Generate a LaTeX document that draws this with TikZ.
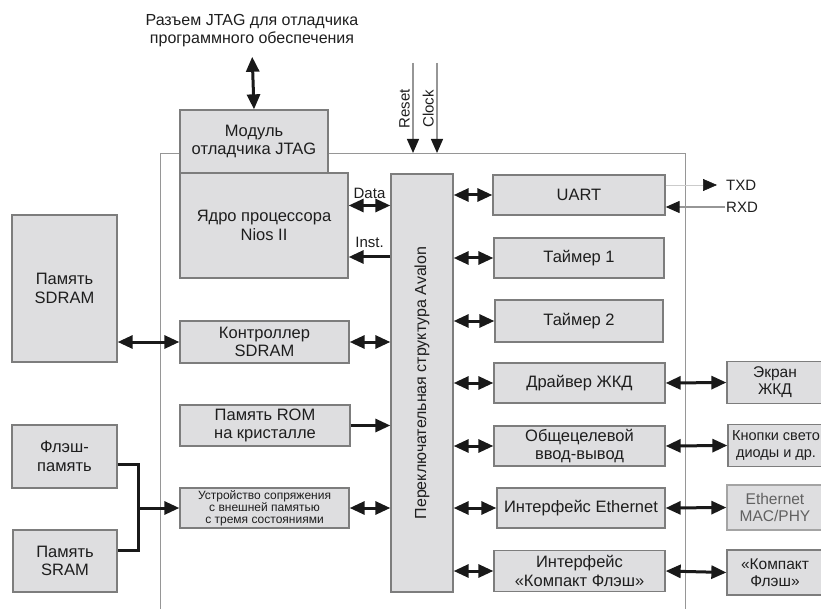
\documentclass[tikz,border=0pt]{standalone}
\usepackage{fontspec}
\setmainfont{Liberation Sans}
\definecolor{boxfill}{RGB}{222,222,224}
\definecolor{boxline}{RGB}{125,125,125}
\definecolor{framegray}{RGB}{150,150,150}
\definecolor{txtgray}{RGB}{30,30,30}
\definecolor{arrblack}{RGB}{25,25,25}
\usetikzlibrary{arrows.meta,positioning}

\begin{document}
\begin{tikzpicture}[x=1pt, y=-1pt,
  blk/.style={rectangle, draw=boxline, fill=boxfill, line width=1.3pt,
              inner sep=0pt, align=center, text=txtgray,
              font=\fontsize{16.5}{18.5}\selectfont},
  ext/.style={blk, minimum width=96pt, minimum height=42pt,
              font=\fontsize{15.5}{17}\selectfont},
  arr/.style={-{Triangle[length=15pt,width=13pt]}, line width=3pt, draw=arrblack},
  darr/.style={{Triangle[length=15pt,width=13pt]}-{Triangle[length=15pt,width=13pt]},
               line width=3pt, draw=arrblack},
  sig/.style={-{Triangle[length=14pt,width=12pt,color=arrblack]}, line width=1.3pt, draw=framegray},
  bus/.style={line width=3pt, draw=arrblack},
  lbl/.style={font=\fontsize{15}{17}\selectfont, text=txtgray, inner sep=1pt}
]
\useasboundingbox (0,0) rectangle (821,609);

% Chip outline (open at the bottom)
\node[draw=framegray, line width=1.3pt, minimum width=525pt, minimum height=500pt,
      inner sep=0pt, anchor=north west] (chip) at (160,153) {};

% JTAG
\node[align=center, text=txtgray, font=\fontsize{16}{18}\selectfont] (jtagcon) at (252,31)
  {Разъем JTAG для отладчика\\программного обеспечения};
\node[blk, minimum width=148pt, minimum height=63pt] (jtag) at (254,141.5)
  {Модуль\\отладчика JTAG};
\node[blk, minimum width=168pt, minimum height=105pt] (nios) at (264,225.5)
  {Ядро процессора\\Nios II};

% Avalon switch fabric
\node[blk, minimum width=62pt, minimum height=418pt, font=\fontsize{16}{18}\selectfont]
  (avalon) at (422,383) {\rotatebox{90}{Переключательная структура Avalon}};

% Reset / Clock
\coordinate (rst) at (413,63);
\coordinate (clk) at (437,63);
\node[lbl, rotate=90, anchor=south] (rstlbl) at (411,109) {Reset};
\node[lbl, rotate=90, anchor=south] (clklbl) at (435,109) {Clock};

% Left column inside the chip
\node[blk, minimum width=169pt, minimum height=42pt] (ctrl)  at (264.5,342)   {Контроллер\\SDRAM};
\node[blk, minimum width=170pt, minimum height=41pt] (rom)   at (265,425.5)   {Память ROM\\на кристалле};
\node[blk, minimum width=169pt, minimum height=40pt, font=\fontsize{12}{12}\selectfont]
  (iface) at (264.5,508) {Устройство сопряжения\\с внешней памятью\\с тремя состояниями};

% Peripherals
\node[blk, minimum width=172pt, minimum height=40pt] (uart)   at (579,195) {UART};
\node[blk, minimum width=170pt, minimum height=40pt] (tmrone) at (579,258) {Таймер 1};
\node[blk, minimum width=168pt, minimum height=42pt] (tmrtwo) at (579,321) {Таймер 2};
\node[blk, minimum width=171pt, minimum height=40pt] (lcddrv) at (579.5,383) {Драйвер ЖКД};
\node[blk, minimum width=171pt, minimum height=40pt] (gpio)   at (579.5,446) {Общецелевой\\ввод-вывод};
\node[blk, minimum width=168pt, minimum height=40pt] (ethif)  at (581,508) {Интерфейс Ethernet};
\node[blk, minimum width=171pt, minimum height=41pt] (cfif)   at (579.5,571) {Интерфейс\\«Компакт Флэш»};

% External devices, left
\node[blk, minimum width=105pt, minimum height=147pt] (sdram) at (64.5,288.5) {Память\\SDRAM};
\node[blk, minimum width=105pt, minimum height=63pt]  (flash) at (64.5,456.5) {Флэш-\\память};
\node[blk, minimum width=104pt, minimum height=62pt]  (sram)  at (65,561)     {Память\\SRAM};

% External devices, right
\node[ext] (lcd)    at (775,382.5) {Экран\\ЖКД};
\node[ext, font=\fontsize{14.5}{17}\selectfont] (keys) at (776,445.5) {Кнопки свето\\диоды и др.};
\node[ext, draw=boxline!70, text=txtgray!70, minimum height=45pt] (ethphy) at (775,507.5) {Ethernet\\MAC/PHY};
\node[ext, minimum height=45pt] (cfcard) at (775,572.5) {«Компакт\\Флэш»};

% UART lines
\node[lbl, anchor=west] (txd) at (725,185) {TXD};
\node[lbl, anchor=west] (rxd) at (725,207) {RXD};

% Connectors
\draw[darr, shorten <=6pt] (jtagcon.south) -- (jtag.north);
\draw[sig] (rst) -- (rst |- chip.north);
\draw[sig] (clk) -- (clk |- chip.north);

\path ([yshift=20pt]nios.east) coordinate (datal) ([yshift=-31.5pt]nios.east) coordinate (instl);
\draw[darr] (datal) -- (datal -| avalon.west) node[midway, above=4pt, lbl] {Data};
\draw[arr] (instl -| avalon.west) -- (instl) node[midway, above=7pt, lbl] {Inst.};
\draw[darr] (ctrl.east) -- (avalon.west |- ctrl.east);
\draw[arr]  (rom.east) -- (avalon.west |- rom.east);
\draw[darr] (iface.east) -- (avalon.west |- iface.east);

\draw[darr] (avalon.east |- uart.west) -- (uart.west);
\draw[darr] (avalon.east |- tmrone.west) -- (tmrone.west);
\draw[darr] (avalon.east |- tmrtwo.west) -- (tmrtwo.west);
\draw[darr] (avalon.east |- lcddrv.west) -- (lcddrv.west);
\draw[darr] (avalon.east |- gpio.west) -- (gpio.west);
\draw[darr] (avalon.east |- ethif.west) -- (ethif.west);
\draw[darr] (avalon.east |- cfif.west) -- (cfif.west);

\draw[sig, line width=0.6pt, draw=framegray!50, shorten >=8pt] (uart.east |- txd.west) -- (txd.west);
\draw[sig] (rxd.west) -- (uart.east |- rxd.west);

\draw[darr] (lcddrv.east) -- (lcd.west);
\draw[darr] (gpio.east) -- (keys.west);
\draw[darr] (ethif.east) -- (ethphy.west);
\draw[darr] (cfif.east) -- (cfcard.west);

\draw[darr] (sdram.east |- ctrl.west) -- (ctrl.west);
\coordinate (busjoin) at (138,508);
\draw[bus] ([yshift=-8pt]flash.east) -| (busjoin) |- ([yshift=11pt]sram.east);
\draw[arr] (busjoin) -- (iface.west);
\end{tikzpicture}
\end{document}
